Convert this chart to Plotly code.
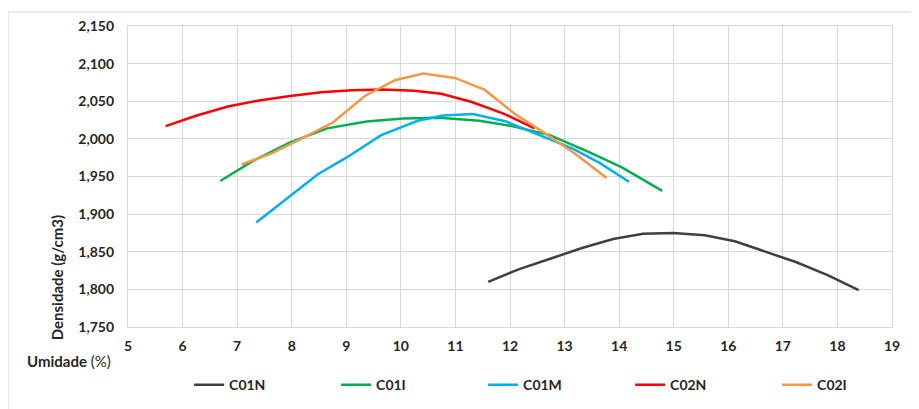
import plotly.graph_objects as go

# Data
c01n_x = [11.6, 12.17, 12.75, 13.32, 13.89, 14.44, 14.99, 15.57, 16.12, 16.7, 17.25, 17.82, 18.39]
c01n_y = [1810, 1827, 1841, 1855, 1867, 1874, 1875, 1872, 1864, 1850, 1836, 1819, 1799]

c01i_x = [6.69, 7.3, 7.96, 8.65, 9.37, 10.04, 10.71, 11.44, 12.03, 12.73, 13.43, 14.05, 14.79]
c01i_y = [1944, 1971, 1995, 2014, 2023, 2027, 2028, 2024, 2017, 2005, 1983, 1962, 1931]

c01m_x = [7.35, 7.99, 8.48, 9.0, 9.64, 10.31, 10.77, 11.32, 11.93, 12.54, 13.15, 13.64, 14.18]
c01m_y = [1889, 1925, 1953, 1975, 2005, 2024, 2031, 2033, 2023, 2005, 1987, 1968, 1943]

c02n_x = [5.69, 6.26, 6.83, 7.4, 7.97, 8.54, 9.1, 9.67, 10.24, 10.74, 11.3, 11.87, 12.45]
c02n_y = [2017, 2031, 2043, 2051, 2057, 2062, 2064.5, 2065.5, 2064, 2060, 2049, 2034, 2014]

c02i_x = [7.08, 7.64, 8.2, 8.76, 9.34, 9.89, 10.41, 10.99, 11.54, 12.09, 12.65, 13.2, 13.77]
c02i_y = [1966, 1981, 2001, 2022, 2057, 2078, 2087, 2081, 2065, 2033, 2007, 1980, 1948]

series = [
    ("C01N", c01n_x, c01n_y, "#404040"),
    ("C01I", c01i_x, c01i_y, "#00b050"),
    ("C01M", c01m_x, c01m_y, "#00b0f0"),
    ("C02N", c02n_x, c02n_y, "#ff0000"),
    ("C02I", c02i_x, c02i_y, "#f79646"),
]

FONT = "Lato"
TXT = "#262626"
fig = go.Figure()
for name, xs, ys, col in series:
    fig.add_trace(go.Scatter(x=xs, y=ys, mode="lines", name=name,
                             line=dict(color=col, width=2.5)))

grid = "#d9d9d9"
fig.update_layout(
    width=911, height=401,
    margin=dict(l=120, r=27, t=18, b=82, autoexpand=False),
    paper_bgcolor="white", plot_bgcolor="white",
    font=dict(family=FONT, size=13, color=TXT),
    showlegend=True,
    legend=dict(orientation="h", x=0.08, xanchor="left", y=-0.14, yanchor="top",
                font=dict(family=FONT, size=14, color=TXT, weight="bold"),
                entrywidth=102, entrywidthmode="pixels", itemwidth=30,
                bgcolor="rgba(0,0,0,0)"),
    xaxis=dict(range=[5, 19], dtick=1, tick0=5, showgrid=True, gridcolor=grid, gridwidth=1.3,
               showline=True, linecolor=grid, linewidth=1.3, mirror=True, zeroline=False,
               automargin=False, ticklabelstandoff=6,
               tickfont=dict(family=FONT, size=14, color=TXT, weight="bold"), ticks=""),
    yaxis=dict(range=[1750, 2150], dtick=50, tickformat=",d", showgrid=True, gridcolor=grid,
               gridwidth=1.3, showline=True, linecolor=grid, linewidth=1.3, mirror=True,
               zeroline=False, ticks="", automargin=False, ticklabelstandoff=10,
               tickfont=dict(family=FONT, size=14, color=TXT, weight="bold")),
    shapes=[dict(type="rect", xref="paper", yref="paper", x0=-0.157, x1=1.2, y0=-0.6, y1=1.0466,
                 line=dict(color=grid, width=1), fillcolor="rgba(0,0,0,0)", layer="below")],
    annotations=[
        dict(text="<b>Umidade</b> (%)", xref="paper", yref="paper", x=-0.135, y=-0.112,
             xanchor="left", yanchor="middle", showarrow=False,
             font=dict(family=FONT, size=15, color=TXT)),
        dict(text="<b>Densidade (g/cm3)</b>", xref="paper", yref="paper", x=-0.093, y=0.165,
             xanchor="center", yanchor="middle", textangle=-90, showarrow=False,
             font=dict(family=FONT, size=15, color=TXT)),
    ],
)

fig.write_html("out.html")
